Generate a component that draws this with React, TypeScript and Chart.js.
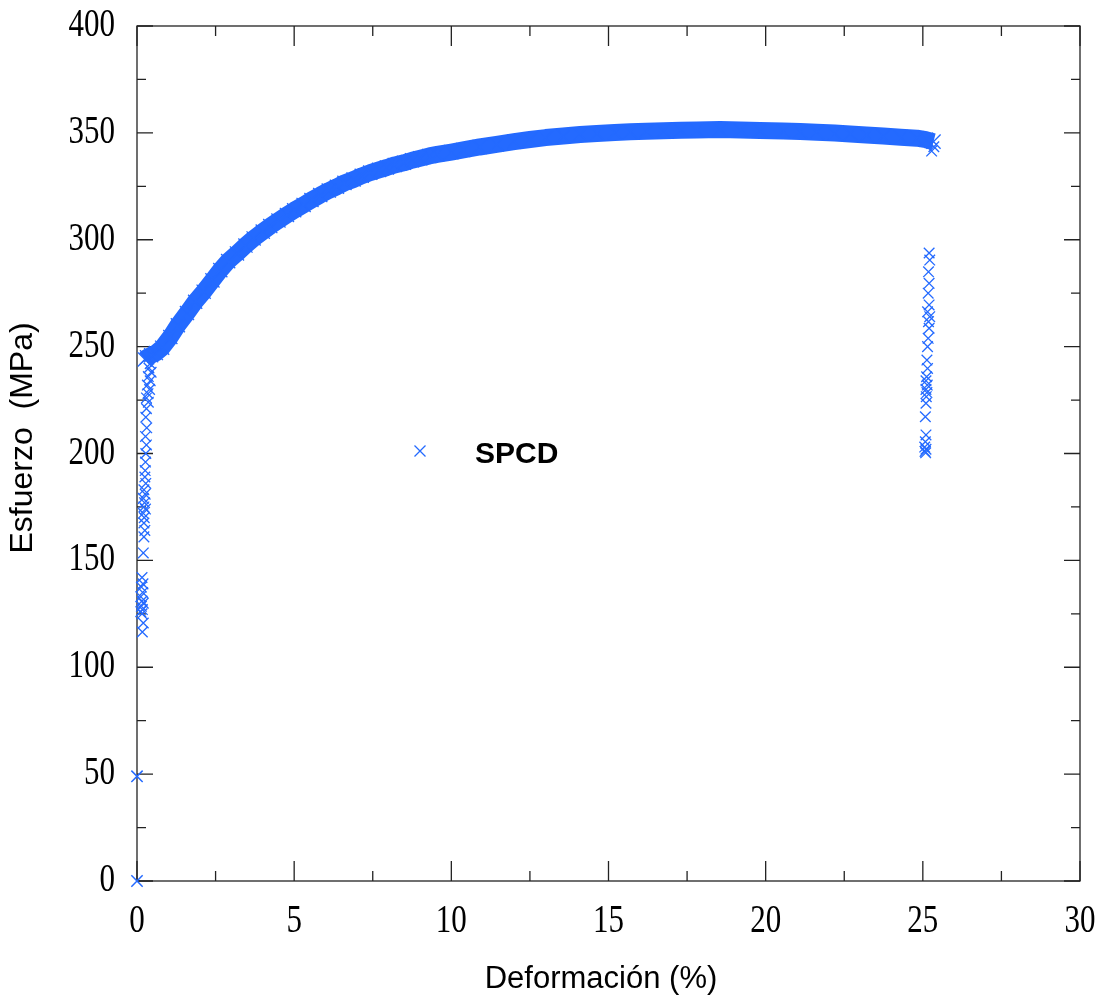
import React, { useEffect, useRef } from "react";
import { Chart, registerables } from "chart.js";

Chart.register(...registerables);

// ---- Data ----
const curveStrain = [
  0.25, 0.32, 0.45, 0.6, 0.8, 1.06, 1.3, 1.59, 1.85, 2.12, 2.4, 2.65, 2.9, 3.18, 3.45, 3.71, 4.0, 4.24,
  4.5, 4.77, 5.0, 5.3, 5.55, 5.83, 6.1, 6.36, 6.6, 6.89, 7.15, 7.42, 7.7, 7.95, 8.2, 8.49, 8.75, 9.01,
  9.3, 9.55, 10.0, 10.38, 10.9, 11.44, 12.0, 12.5, 13.0, 13.56, 14.1, 14.63, 15.2, 15.69, 16.2, 16.75,
  17.3, 17.81, 18.55, 19.2, 19.82, 20.56, 21.1, 21.63, 22.2, 22.69, 23.2, 23.74, 24.3, 24.81, 25.1, 25.34,
];
const curveStress = [
  244, 245, 246, 247, 249.5, 254.5, 260, 265.7, 271, 275.7, 281, 285.8, 290, 293.6, 297.3, 300.6, 303.8, 306.4,
  309, 311.6, 313.8, 316.3, 318.6, 320.9, 323, 324.8, 326.6, 328.2, 329.9, 331.4, 332.7, 333.8, 335, 336,
  337.2, 338.1, 339.2, 339.9, 341, 342, 343.4, 344.6, 345.9, 346.9, 347.8, 348.5, 349.2, 349.7, 350.2,
  350.5, 350.8, 351, 351.2, 351.3, 351.6, 351.4, 351.1, 350.9, 350.6, 350.3, 349.9, 349.5, 349, 348.5,
  348, 347.5, 346.8, 345.9,
];

const originStrain = [0, 0];
const originStress = [0, 49];

const yieldStrain = [
  0.42, 0.38, 0.45, 0.36, 0.42, 0.33, 0.4, 0.35, 0.3, 0.36, 0.3, 0.28, 0.31, 0.27, 0.3, 0.28, 0.27, 0.26,
  0.25, 0.28, 0.22, 0.26, 0.2, 0.24, 0.22, 0.27, 0.2, 0.23, 0.22, 0.25, 0.22, 0.2, 0.16, 0.19, 0.14, 0.18,
  0.12, 0.16, 0.2, 0.14, 0.17, 0.12, 0.16, 0.2, 0.17,
];
const yieldStress = [
  242, 240, 238, 236, 234, 232, 230, 228, 226, 224, 221, 217, 212, 208, 204, 200, 196, 192, 189, 186, 183,
  181, 179, 177, 175, 174, 172, 170, 167.5, 164, 161, 153.5, 142, 139, 137.5, 135, 133, 131, 130, 128.5,
  127, 126, 125, 120.7, 116.5,
];

const breakStrain = [
  25.28, 25.35, 25.2, 25.22, 25.18, 25.2, 25.17, 25.2, 25.15, 25.22, 25.18, 25.2, 25.17, 25.15, 25.13, 25.15,
  25.12, 25.1, 25.14, 25.1, 25.13, 25.11, 25.1, 25.08, 25.1, 25.08, 25.06, 25.1, 25.07, 25.09,
];
const breakStress = [
  341.5, 343.5, 293.8, 290.5, 285, 279.6, 275, 269.5, 266.3, 264, 261.7, 258.6, 253.9, 250, 243.7, 239.8,
  235.9, 234, 232, 230, 228.5, 226.6, 223.5, 217.2, 208.7, 205.5, 203, 202, 201, 200.3,
];

const xTicks = [0, 5, 10, 15, 20, 25, 30];
const xTickLabels = ["0", "5", "10", "15", "20", "25", "30"];
const yTicks = [0, 50, 100, 150, 200, 250, 300, 350, 400];
const yTickLabels = ["0", "50", "100", "150", "200", "250", "300", "350", "400"];
const xMinorTicks = [2.5, 7.5, 12.5, 17.5, 22.5, 27.5];
const yMinorTicks = [25, 75, 125, 175, 225, 275, 325, 375];

const seriesName = "SPCD";
const xTitle = "Deformación (%)";
const yTitle = "Esfuerzo  (MPa)";

const BLUE = "rgb(36,106,255)";
const AXIS = "#222";

const toPoints = (xs: number[], ys: number[]) => xs.map((x, i) => ({ x, y: ys[i] }));

function stretchedText(
  ctx: CanvasRenderingContext2D,
  text: string,
  x: number,
  y: number,
  align: CanvasTextAlign,
  sy: number
) {
  ctx.save();
  ctx.translate(x, y);
  ctx.scale(1, sy);
  ctx.textAlign = align;
  ctx.textBaseline = "alphabetic";
  ctx.fillText(text, 0, 0);
  ctx.restore();
}

const framePlugin = {
  id: "gnuplotFrame",
  beforeDatasetsDraw(chart: any) {
    const { ctx, chartArea: a, scales } = chart;
    const xs = scales.x;
    const ys = scales.y;
    ctx.save();
    ctx.strokeStyle = AXIS;
    ctx.lineWidth = 1.3;
    ctx.strokeRect(a.left, a.top, a.right - a.left, a.bottom - a.top);
    ctx.beginPath();
    const xt = (v: number, len: number) => {
      const p = xs.getPixelForValue(v);
      ctx.moveTo(p, a.bottom);
      ctx.lineTo(p, a.bottom - len);
      ctx.moveTo(p, a.top);
      ctx.lineTo(p, a.top + len);
    };
    const yt = (v: number, len: number) => {
      const p = ys.getPixelForValue(v);
      ctx.moveTo(a.left, p);
      ctx.lineTo(a.left + len, p);
      ctx.moveTo(a.right, p);
      ctx.lineTo(a.right - len, p);
    };
    xTicks.forEach((v) => xt(v, 20));
    xMinorTicks.forEach((v) => xt(v, 10));
    yTicks.forEach((v) => yt(v, 16));
    yMinorTicks.forEach((v) => yt(v, 9));
    ctx.stroke();

    // tick labels
    ctx.fillStyle = "#000";
    ctx.font = '31px "Liberation Serif", "Times New Roman", serif';
    xTicks.forEach((v, i) => {
      stretchedText(ctx, xTickLabels[i], xs.getPixelForValue(v), a.bottom + 51, "center", 1.3);
    });
    yTicks.forEach((v, i) => {
      stretchedText(ctx, yTickLabels[i], a.left - 22, ys.getPixelForValue(v) + 10, "right", 1.3);
    });

    // axis titles
    ctx.font = '31px "Liberation Sans", Arial, sans-serif';
    ctx.textAlign = "center";
    ctx.textBaseline = "alphabetic";
    ctx.fillText(xTitle, 601, 988);
    ctx.save();
    ctx.translate(32, 438);
    ctx.rotate(-Math.PI / 2);
    ctx.font = '32px "Liberation Sans", Arial, sans-serif';
    ctx.fillText(yTitle, 0, 0);
    ctx.restore();

    // legend
    const lx = a.left + 283;
    const ly = a.top + 425;
    ctx.strokeStyle = BLUE;
    ctx.lineWidth = 1.3;
    ctx.beginPath();
    ctx.moveTo(lx - 5.5, ly - 5.5);
    ctx.lineTo(lx + 5.5, ly + 5.5);
    ctx.moveTo(lx - 5.5, ly + 5.5);
    ctx.lineTo(lx + 5.5, ly - 5.5);
    ctx.stroke();
    ctx.fillStyle = "#000";
    ctx.font = 'bold 30px "Liberation Sans", Arial, sans-serif';
    ctx.textAlign = "left";
    ctx.fillText(seriesName, a.left + 338, a.top + 437);
    ctx.restore();
  },
};

export default function App() {
  const canvasRef = useRef<HTMLCanvasElement | null>(null);

  useEffect(() => {
    const canvas = canvasRef.current;
    if (!canvas) return;
    const chart = new Chart(canvas, {
      type: "scatter",
      data: {
        datasets: [
          {
            label: seriesName,
            data: toPoints(curveStrain, curveStress),
            showLine: true,
            borderColor: BLUE,
            backgroundColor: BLUE,
            borderWidth: 17,
            borderJoinStyle: "round",
            borderCapStyle: "butt",
            tension: 0,
            pointStyle: "crossRot",
            pointRadius: 10,
            pointBorderWidth: 1.3,
            pointBorderColor: BLUE,
            clip: false,
          } as any,
          {
            label: seriesName + " yield",
            data: toPoints(yieldStrain, yieldStress),
            showLine: false,
            pointStyle: "crossRot",
            pointRadius: 7.5,
            pointBorderWidth: 1.3,
            borderColor: BLUE,
            pointBorderColor: BLUE,
            clip: false,
          } as any,
          {
            label: seriesName + " break",
            data: toPoints(breakStrain, breakStress),
            showLine: false,
            pointStyle: "crossRot",
            pointRadius: 7.5,
            pointBorderWidth: 1.3,
            borderColor: BLUE,
            pointBorderColor: BLUE,
            clip: false,
          } as any,
          {
            label: seriesName + " origin",
            data: toPoints(originStrain, originStress),
            showLine: false,
            pointStyle: "crossRot",
            pointRadius: 8,
            pointBorderWidth: 1.5,
            borderColor: BLUE,
            pointBorderColor: BLUE,
            clip: false,
          } as any,
        ],
      },
      options: {
        animation: false,
        responsive: false,
        layout: { padding: { left: 137, top: 26, right: 27, bottom: 120 } },
        plugins: { legend: { display: false }, tooltip: { enabled: false } },
        scales: {
          x: { type: "linear", min: 0, max: 30, display: false },
          y: { type: "linear", min: 0, max: 400, display: false },
        },
      },
      plugins: [framePlugin],
    });
    return () => chart.destroy();
  }, []);

  return (
    <div style={{ position: "absolute", left: 0, top: 0, width: 1107, height: 1001, background: "#fff" }}>
      <canvas ref={canvasRef} width={1107} height={1001} style={{ display: "block" }} />
    </div>
  );
}
